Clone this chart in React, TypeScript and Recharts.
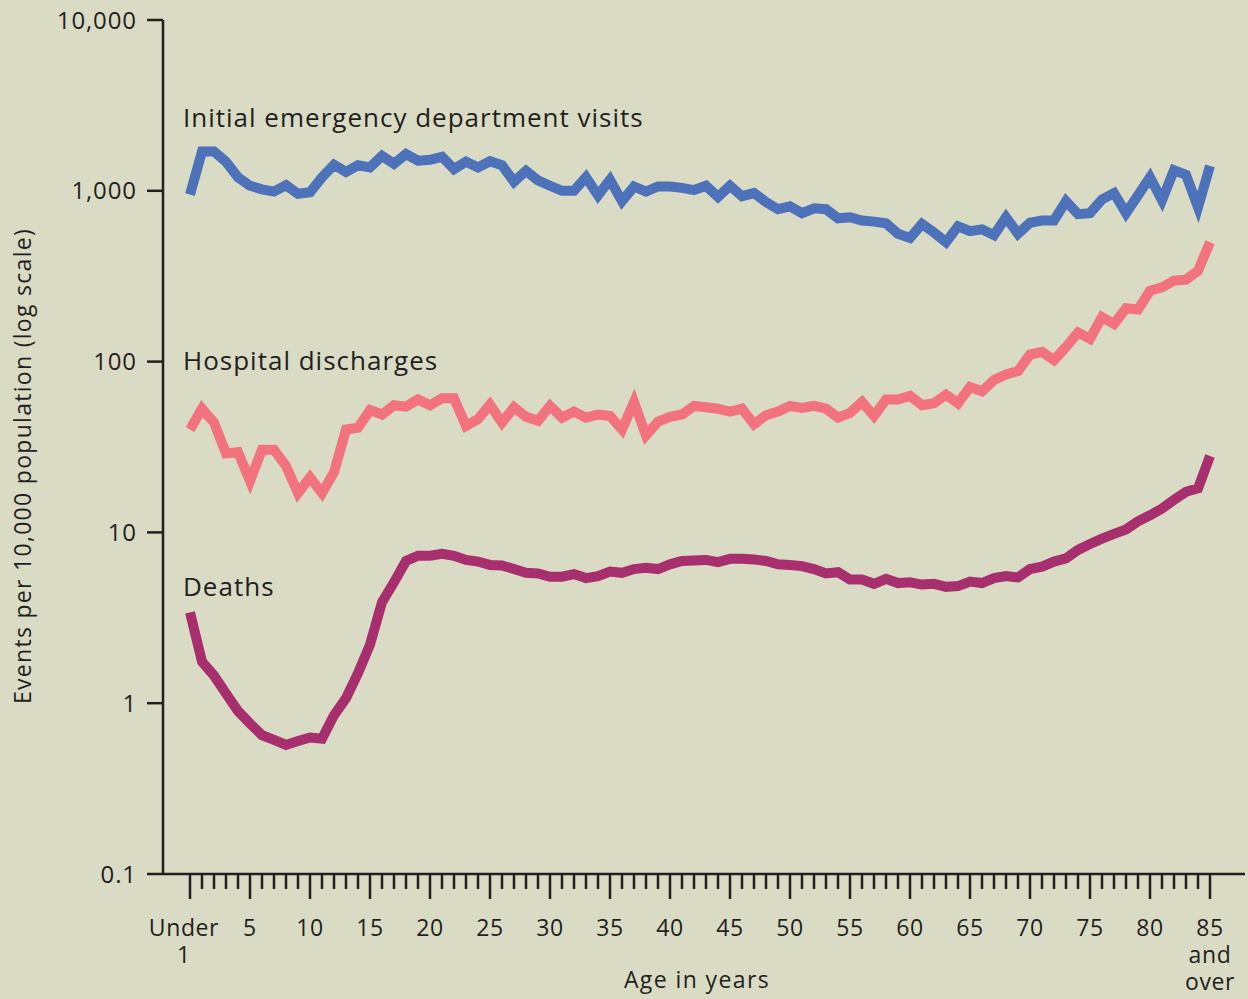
import { LineChart, Line, XAxis, YAxis } from "recharts";

const BG = "#dadbc5";
const INK = "#231f20";
const ED_COLOR = "#4d72b9";
const HD_COLOR = "#f2737d";
const DEATH_COLOR = "#a82f6e";
const FONT = "'Open Sans', 'Noto Sans', sans-serif";

// age in single years, 0 = under 1, 85 = 85 and over
const AGES = [
  0, 1, 2, 3, 4, 5, 6, 7, 8, 9, 10, 11, 12, 13, 14, 15, 16, 17, 18, 19, 20,
  21, 22, 23, 24, 25, 26, 27, 28, 29, 30, 31, 32, 33, 34, 35, 36, 37, 38, 39, 40,
  41, 42, 43, 44, 45, 46, 47, 48, 49, 50, 51, 52, 53, 54, 55, 56, 57, 58, 59, 60,
  61, 62, 63, 64, 65, 66, 67, 68, 69, 70, 71, 72, 73, 74, 75, 76, 77, 78, 79, 80,
  81, 82, 83, 84, 85,
];

// events per 10,000 population
const ED_VISITS = [
  950, 1700, 1700, 1480, 1200, 1070, 1020, 990, 1080, 960, 980,
  1200, 1420, 1290, 1410, 1370, 1600, 1440, 1640, 1500, 1520,
  1580, 1340, 1480, 1370, 1490, 1410, 1130, 1310, 1150, 1070,
  1000, 1000, 1200, 940, 1160, 870, 1060, 990, 1060, 1060,
  1040, 1010, 1070, 920, 1070, 930, 970, 860, 780, 810,
  740, 790, 780, 690, 700, 670, 660, 645, 560, 530,
  640, 570, 500, 620, 580, 595, 550, 700, 560, 650,
  670, 670, 870, 730, 740, 890, 970, 740, 940, 1200,
  880, 1320, 1240, 800, 1400,
];

const DISCHARGES = [
  40, 53, 44, 29, 29.5, 20, 30.5, 30.5, 24.5, 17, 21,
  17, 22.5, 40, 41, 52, 49, 55.5, 54.5, 60, 55.5,
  61, 61, 42, 46, 56, 44, 54, 47.5, 45, 55,
  47, 51, 47, 49, 48, 40, 58, 37, 44.5, 47.5,
  49, 55, 54, 53, 51, 53, 43, 48.5, 51, 55,
  53.5, 55, 53, 47, 50, 58, 48, 60, 60, 63,
  55.5, 57, 64, 57, 71, 67, 78, 84, 88, 110,
  114, 102, 122, 148, 136, 182, 166, 205, 202, 260,
  272, 298, 302, 340, 500,
];

const DEATHS = [
  3.4, 1.75, 1.45, 1.14, 0.9, 0.76, 0.65, 0.61, 0.57, 0.6, 0.63,
  0.62, 0.85, 1.07, 1.5, 2.2, 3.9, 5.1, 6.8, 7.3, 7.3,
  7.5, 7.3, 6.9, 6.75, 6.45, 6.4, 6.1, 5.8, 5.75, 5.5,
  5.5, 5.7, 5.4, 5.55, 5.9, 5.8, 6.1, 6.2, 6.1, 6.5,
  6.8, 6.85, 6.9, 6.7, 7.0, 7.0, 6.95, 6.8, 6.5, 6.45,
  6.35, 6.1, 5.75, 5.85, 5.3, 5.3, 5.0, 5.35, 5.05, 5.1,
  4.95, 5.0, 4.8, 4.85, 5.15, 5.05, 5.4, 5.55, 5.45, 6.1,
  6.3, 6.75, 7.05, 7.9, 8.55, 9.2, 9.8, 10.4, 11.6, 12.6,
  13.8, 15.5, 17.3, 18.1, 28,
];

const Y_TICKS = [0.1, 1, 10, 100, 1000, 10000];
const Y_TICK_LABELS = ["0.1", "1", "10", "100", "1,000", "10,000"];

const MAJOR_AGES = [0, 5, 10, 15, 20, 25, 30, 35, 40, 45, 50, 55, 60, 65, 70, 75, 80, 85];
const MAJOR_LABELS = [
  ["Under", "1"], ["5"], ["10"], ["15"], ["20"], ["25"], ["30"], ["35"], ["40"],
  ["45"], ["50"], ["55"], ["60"], ["65"], ["70"], ["75"], ["80"], ["85", "and", "over"],
];

const data = AGES.map((age, i) => ({
  age,
  ed: ED_VISITS[i],
  hd: DISCHARGES[i],
  deaths: DEATHS[i],
}));

function AgeTick(props: any) {
  const { x, y, payload } = props;
  const idx = MAJOR_AGES.indexOf(payload.value);
  const major = idx >= 0;
  const tx = x + (payload.value === 0 ? -6 : 0);
  return (
    <g>
      <line x1={x} x2={x} y1={y} y2={y + (major ? 25 : 15)} stroke={INK} strokeWidth={2.5} />
      {major && (
        <text
          x={tx}
          y={y + 62}
          textAnchor="middle"
          fontSize={23}
          letterSpacing={0.6}
          fontFamily={FONT}
          fill={INK}
        >
          {MAJOR_LABELS[idx].map((t, j) => (
            <tspan key={j} x={tx} dy={j === 0 ? 0 : 27}>
              {t}
            </tspan>
          ))}
        </text>
      )}
    </g>
  );
}

const seriesLabel = { fontSize: 26, letterSpacing: 1, fontFamily: FONT, fill: INK };

export default function App() {
  return (
    <div style={{ position: "fixed", left: 0, top: 0, width: 1248, height: 999, background: BG }}>
      <LineChart
        width={1248}
        height={999}
        data={data}
        margin={{ top: 20, right: 3, left: 0, bottom: 0 }}
      >
        <XAxis
          dataKey="age"
          type="number"
          domain={[0, 85]}
          ticks={AGES}
          interval={0}
          padding={{ left: 27, right: 35 }}
          height={125}
          tickSize={0}
          tickMargin={0}
          tickLine={false}
          tick={<AgeTick />}
          axisLine={{ stroke: INK, strokeWidth: 2.5 }}
        />
        <YAxis
          scale="log"
          domain={[0.1, 10000]}
          ticks={Y_TICKS}
          interval={0}
          allowDataOverflow
          width={163}
          tickSize={16}
          tickMargin={10}
          tickFormatter={(v: number) => Y_TICK_LABELS[Y_TICKS.indexOf(v)] ?? String(v)}
          tick={{ fontSize: 24, letterSpacing: 0.9, fontFamily: FONT, fill: INK }}
          tickLine={{ stroke: INK, strokeWidth: 2.5 }}
          axisLine={{ stroke: INK, strokeWidth: 2.5 }}
        />
        <YAxis
          yAxisId="frame"
          orientation="right"
          width={0}
          tick={false}
          tickLine={false}
          axisLine={{ stroke: INK, strokeWidth: 2 }}
        />
        <Line
          type="linear"
          dataKey="ed"
          stroke={ED_COLOR}
          strokeWidth={10}
          dot={false}
          isAnimationActive={false}
        />
        <Line
          type="linear"
          dataKey="hd"
          stroke={HD_COLOR}
          strokeWidth={10}
          dot={false}
          isAnimationActive={false}
        />
        <Line
          type="linear"
          dataKey="deaths"
          stroke={DEATH_COLOR}
          strokeWidth={10}
          dot={false}
          isAnimationActive={false}
        />
        <text x={183} y={127} {...seriesLabel}>Initial emergency department visits</text>
        <text x={183} y={370} {...seriesLabel}>Hospital discharges</text>
        <text x={183} y={596} {...seriesLabel}>Deaths</text>
        <text
          x={22}
          y={466}
          transform="rotate(-90 22 466)"
          textAnchor="middle"
          dominantBaseline="central"
          fontSize={23}
          letterSpacing={1.3}
          fontFamily={FONT}
          fill={INK}
        >
          Events per 10,000 population (log scale)
        </text>
        <text
          x={697}
          y={988}
          textAnchor="middle"
          fontSize={23}
          letterSpacing={1.4}
          fontFamily={FONT}
          fill={INK}
        >
          Age in years
        </text>
      </LineChart>
    </div>
  );
}
